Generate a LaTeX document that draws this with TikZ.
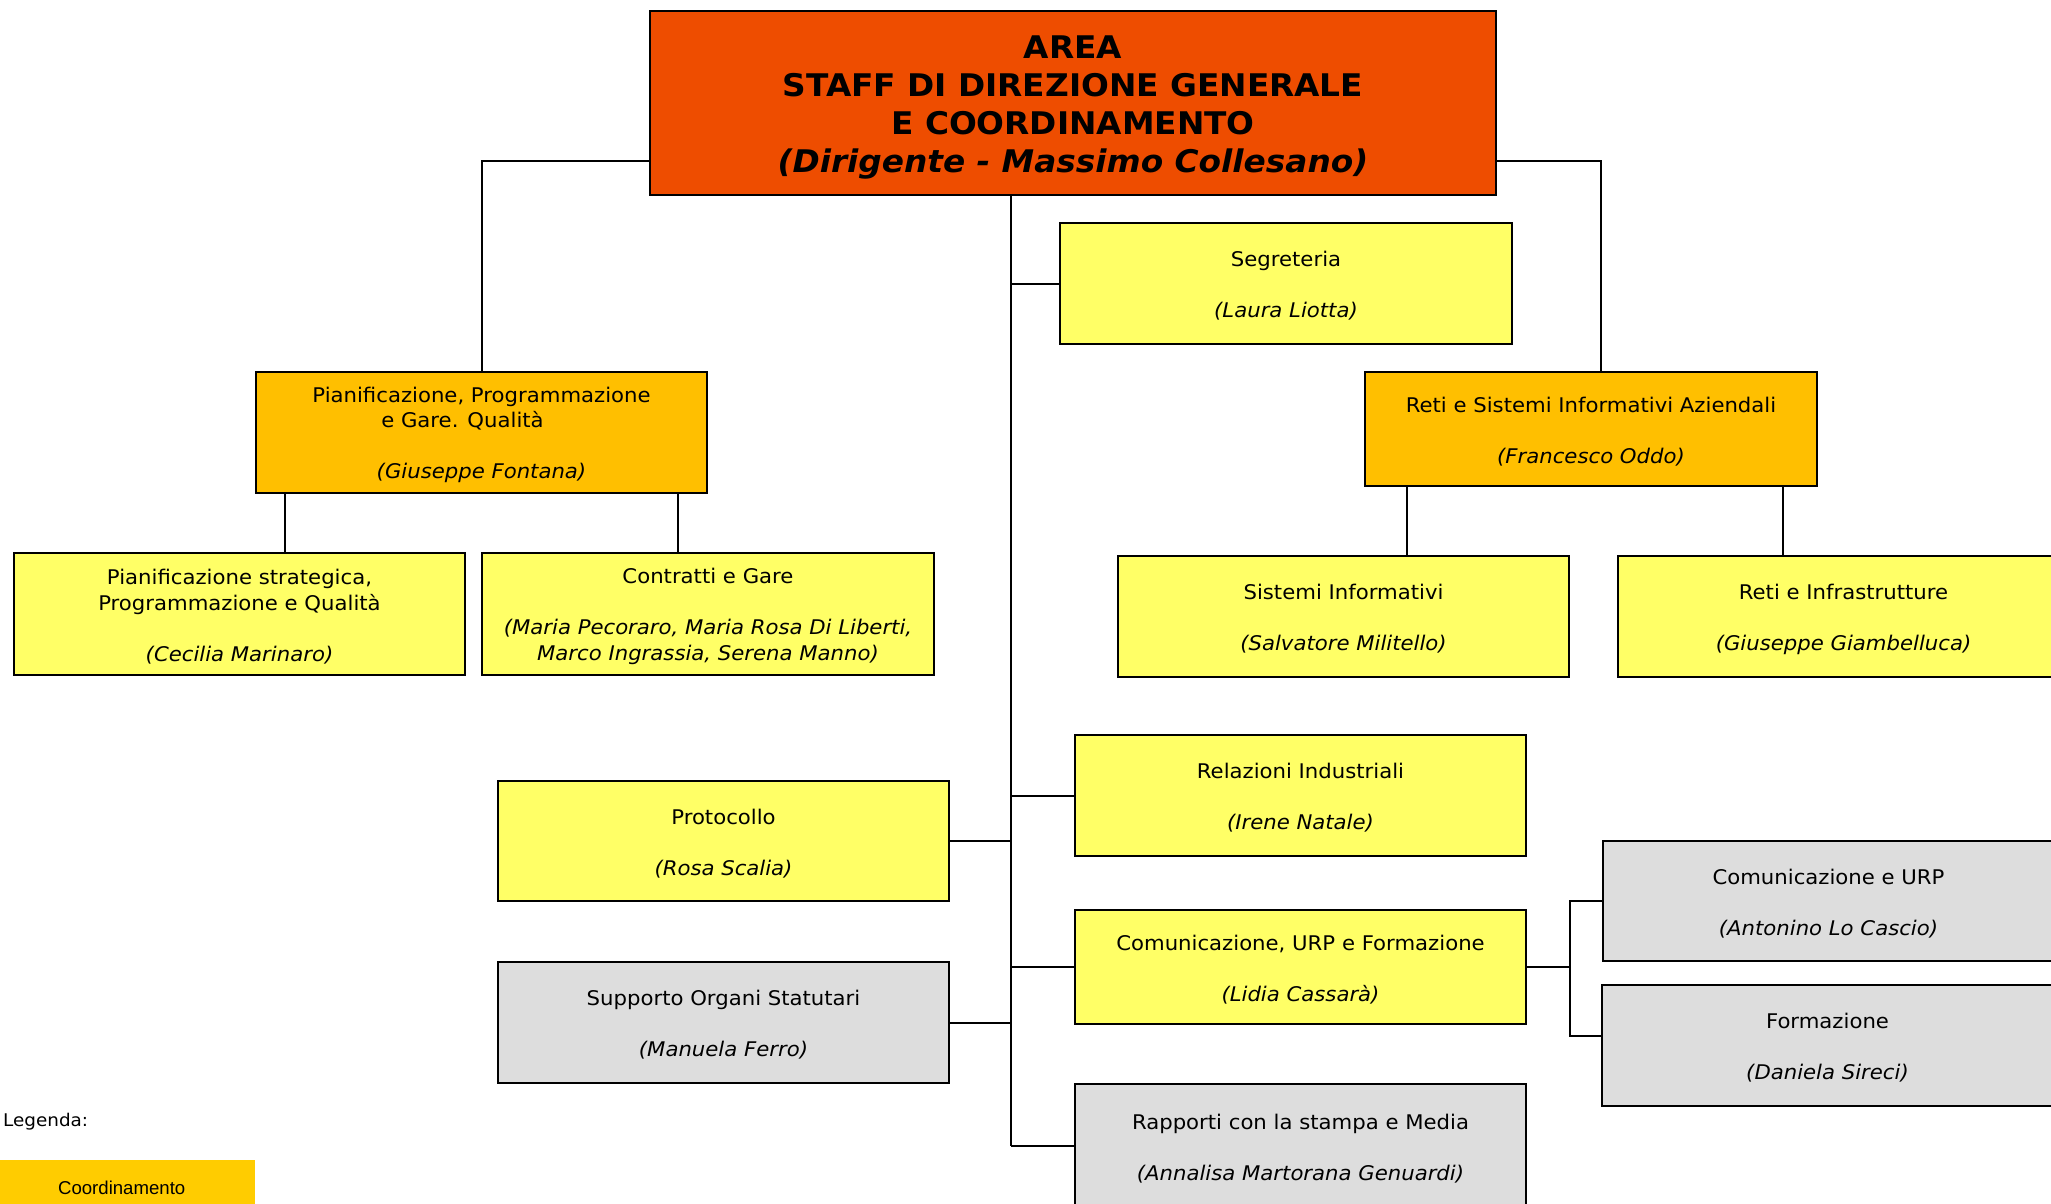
\documentclass[tikz,border=0pt]{standalone}
\usepackage{fontspec}
\setmainfont[FakeStretch=1.05]{DejaVu Sans}
\newfontfamily\arialfont{Liberation Sans}
\definecolor{topred}{HTML}{EE4D00}
\definecolor{coordor}{HTML}{FFBF00}
\definecolor{unityel}{HTML}{FFFF66}
\definecolor{unitgray}{HTML}{DDDDDD}
\definecolor{legyel}{HTML}{FFCC00}
\newcommand\ustrut{\rule{0pt}{20.6pt}}
\newcommand\tstrut{\rule{0pt}{31.7pt}}
\tikzset{
  unitbox/.style={draw=black, line width=2pt, align=center, inner sep=0pt,
    anchor=north west, font=\fontsize{20.2}{25.5}\selectfont},
  ubox/.style 2 args={unitbox, minimum width=#1, minimum height=#2},
  conn/.style={line width=2pt, draw=black},
}
\begin{document}
\begin{tikzpicture}[x=1pt,y=-1pt]
\useasboundingbox (0,0) rectangle (2051,1203);
\clip (0,0) rectangle (2051,1203);

% top
\node[ubox={846}{184}, fill=topred, font=\bfseries\fontsize{31.2}{38}\selectfont] (top) at (649,10)
  {\tstrut AREA\\STAFF DI DIREZIONE GENERALE\\E COORDINAMENTO\\\textit{(Dirigente - Massimo Collesano)}};

% coordination units
\node[ubox={451}{121}, fill=coordor] (pianif) at (255,371)
  {\ustrut Pianificazione, Programmazione\\e Gare. Qualità\rule{38pt}{0pt}\\[25.5pt]\textit{(Giuseppe Fontana)}};
\node[ubox={452}{114}, fill=coordor] (retisia) at (1364,371)
  {\ustrut Reti e Sistemi Informativi Aziendali\\[25.5pt]\textit{(Francesco Oddo)}};

% yellow units
\node[ubox={452}{121}, fill=unityel] (segr) at (1059,222)
  {\ustrut Segreteria\\[25.5pt]\textit{(Laura Liotta)}};
\node[ubox={451}{122}, fill=unityel] (pstrat) at (13,552)
  {\ustrut Pianificazione strategica,\\Programmazione e Qualità\\[25.5pt]\textit{(Cecilia Marinaro)}};
\node[ubox={452}{122}, fill=unityel] (contr) at (481,552)
  {\ustrut Contratti e Gare\\[25.5pt]\textit{(Maria Pecoraro, Maria Rosa Di Liberti,}\\\textit{Marco Ingrassia, Serena Manno)}};
\node[ubox={451}{121}, fill=unityel] (sistinf) at (1117,555)
  {\ustrut Sistemi Informativi\\[25.5pt]\textit{(Salvatore Militello)}};
\node[ubox={451}{121}, fill=unityel] (retinf) at (1617,555)
  {\ustrut Reti e Infrastrutture\\[25.5pt]\textit{(Giuseppe Giambelluca)}};
\node[ubox={451}{121}, fill=unityel] (relind) at (1074,734)
  {\ustrut Relazioni Industriali\\[25.5pt]\textit{(Irene Natale)}};
\node[ubox={451}{120}, fill=unityel] (proto) at (497,780)
  {\ustrut Protocollo\\[25.5pt]\textit{(Rosa Scalia)}};
\node[ubox={451}{114}, fill=unityel] (cuf) at (1074,909)
  {\ustrut Comunicazione, URP e Formazione\\[25.5pt]\textit{(Lidia Cassarà)}};

% gray units
\node[ubox={451}{121}, fill=unitgray] (supp) at (497,961)
  {\ustrut Supporto Organi Statutari\\[25.5pt]\textit{(Manuela Ferro)}};
\node[ubox={451}{124}, fill=unitgray] (rapp) at (1074,1083)
  {\ustrut Rapporti con la stampa e Media\\[25.5pt]\textit{(Annalisa Martorana Genuardi)}};
\node[ubox={451}{120}, fill=unitgray] (comurp) at (1602,840)
  {\ustrut Comunicazione e URP\\[25.5pt]\textit{(Antonino Lo Cascio)}};
\node[ubox={451}{121}, fill=unitgray] (formaz) at (1601,984)
  {\ustrut Formazione\\[25.5pt]\textit{(Daniela Sireci)}};

% connectors
\draw[conn] (top.south west |- 0,161) -| (pianif.north);
\draw[conn] (top.south east |- 0,161) -| (retisia.north -| 1601,0);
\draw[conn] (top.south -| 1011,0) -- (rapp.west -| 1011,0);
\draw[conn] (segr.west) -- (segr.west -| 1011,0);
\draw[conn] (relind.west) -- (relind.west -| 1011,0);
\draw[conn] (cuf.west) -- (cuf.west -| 1011,0);
\draw[conn] (rapp.west) -- (rapp.west -| 1011,0);
\draw[conn] (proto.east) -- (proto.east -| 1011,0);
\draw[conn] (supp.east) -- (supp.east -| 1011,0);
\draw[conn] (pianif.south -| 285,0) -- (pstrat.north -| 285,0);
\draw[conn] (pianif.south -| 678,0) -- (contr.north -| 678,0);
\draw[conn] (retisia.south -| 1407,0) -- (sistinf.north -| 1407,0);
\draw[conn] (retisia.south -| 1783,0) -- (retinf.north -| 1783,0);
\draw[conn] (cuf.east) -- (cuf.east -| 1570,0);
\draw[conn] (comurp.west) -- (comurp.west -| 1570,0) -- (1570,1036) -- (formaz.west |- 0,1036);

% legend
\node[anchor=base west, font=\fontsize{17.5}{22}\selectfont, inner sep=0pt] (leg) at (3,1126) {Legenda:};
\node[fill=legyel, minimum width=255, minimum height=56, anchor=north west, inner sep=0pt,
  font=\arialfont\fontsize{18.6}{22}\selectfont] (legc) at (0,1160) {Coordinamento\hspace*{12pt}};
\end{tikzpicture}
\end{document}
